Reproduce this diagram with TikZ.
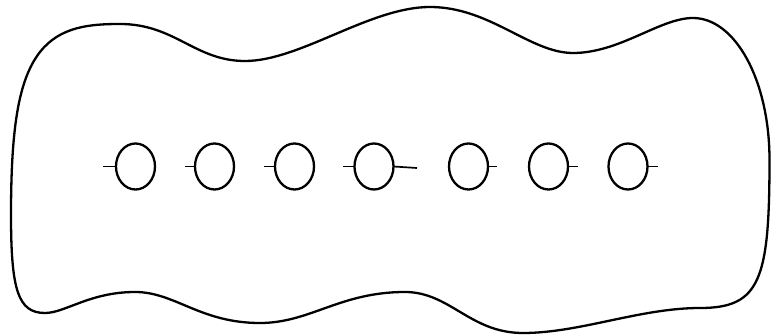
\documentclass[tikz,border=0pt]{standalone}
\usetikzlibrary{shapes.geometric}
\begin{document}
\begin{tikzpicture}[x=1pt,y=-1pt,
  outline/.style={line width=2.3pt, line join=round},
  hole/.style={draw, ellipse, line width=2.3pt, minimum width=39pt, minimum height=46pt, inner sep=0pt, outer sep=0pt},
  stub/.style={line width=1.7pt}]
\useasboundingbox (0,0) rectangle (771,336);
\draw[outline] (11,215)
  .. controls (11,130) and (18,80) .. (40,52)
  .. controls (60,26.5) and (90,24) .. (120,24)
  .. controls (175,24) and (195,61) .. (245,61)
  .. controls (300,61) and (370,7) .. (430,7)
  .. controls (490,7) and (530,53) .. (573,53)
  .. controls (620,53) and (660,18) .. (693,18)
  .. controls (735,18) and (769.5,80) .. (769.5,160)
  .. controls (769.5,280) and (760,308) .. (700,308)
  .. controls (640,308) and (580,333) .. (523,333)
  .. controls (470,333) and (450,292) .. (405,292)
  .. controls (340,292) and (310,323) .. (260,323)
  .. controls (200,323) and (175,292) .. (135,292)
  .. controls (90,292) and (65,313) .. (45,313)
  .. controls (18,313) and (11,290) .. (11,215) -- cycle;
\node[hole] (c1) at (135.5,166.5) {};
\node[hole] (c2) at (214.5,166.5) {};
\node[hole] (c3) at (294.5,166.5) {};
\node[hole] (c4) at (374,166.5) {};
\node[hole] (c5) at (468.5,166.5) {};
\node[hole] (c6) at (548.5,166.5) {};
\node[hole] (c7) at (628,166.5) {};
\coordinate (s1) at (103,166.5);
\coordinate (s2) at (185,166.5);
\coordinate (s3) at (264,166.5);
\coordinate (s4) at (343,166.5);
\coordinate (s4r) at (417,168);
\coordinate (s5) at (497,166.5);
\coordinate (s6) at (578,166.5);
\coordinate (s7) at (658,166.5);
\draw[stub] (c1.west) -- (s1);
\draw[stub] (c2.west) -- (s2);
\draw[stub] (c3.west) -- (s3);
\draw[stub] (c4.west) -- (s4);
\draw[stub] (c4.east) -- (s4r);
\draw[stub] (c5.east) -- (s5);
\draw[stub] (c6.east) -- (s6);
\draw[stub] (c7.east) -- (s7);
\end{tikzpicture}
\end{document}
